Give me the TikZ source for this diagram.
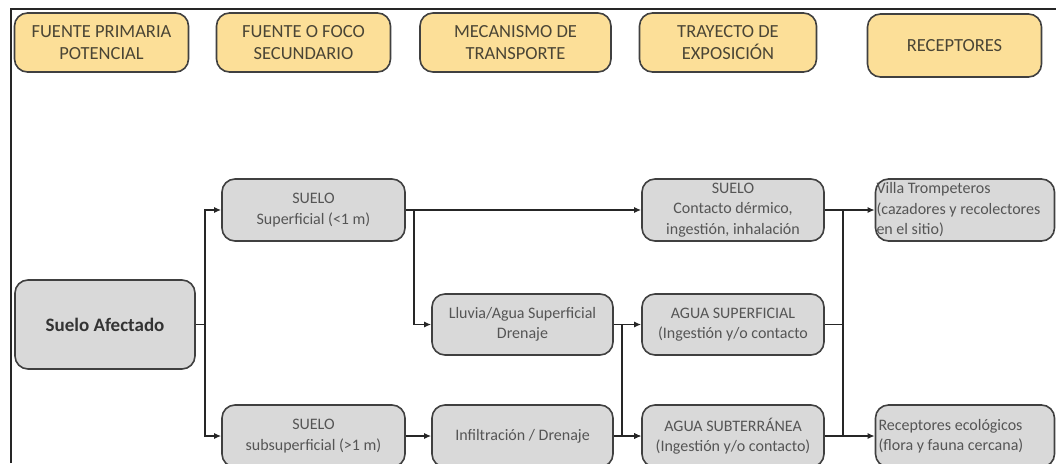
\documentclass[tikz,border=0pt]{standalone}
\usepackage{fontspec}
\setmainfont{Carlito}
\usetikzlibrary{arrows.meta}
\definecolor{hfill}{HTML}{FCDF98}
\definecolor{gfill}{HTML}{D9D9D9}
\definecolor{edge}{HTML}{404040}
\definecolor{htext}{HTML}{4A4535}
\definecolor{btext}{HTML}{555555}
\begin{document}
\begin{tikzpicture}[x=1pt,y=-1pt,
  hbox/.style={draw=edge,line width=1.6pt,fill=hfill,rounded corners=13pt,
    minimum height=59pt,align=center,text=htext,font=\fontsize{18.5}{22}\selectfont,inner sep=1pt},
  gbox/.style={draw=edge,line width=1.6pt,fill=gfill,rounded corners=13pt,
    minimum height=62pt,minimum width=182pt,align=center,text=btext,
    font=\fontsize{16}{20.5}\selectfont,inner sep=1pt},
  conn/.style={draw=black!85,line width=1.4pt},
  arr/.style={conn,-{Latex[length=7pt,width=6pt]}}]
\clip (0,0) rectangle (1056,463);
\fill[white] (0,0) rectangle (1056,463);
\draw[line width=2pt,black!85] (11,463) -- (11,9) -- (1056,9);
% headers
\node[hbox,minimum width=174pt] (h1) at (101.5,42.5) {FUENTE PRIMARIA\\POTENCIAL};
\node[hbox,minimum width=174pt] (h2) at (303.5,42.5) {FUENTE O FOCO\\SECUNDARIO};
\node[hbox,minimum width=191pt] (h3) at (515.5,42.5) {MECANISMO DE\\TRANSPORTE};
\node[hbox,minimum width=177pt] (h4) at (728,42.5) {TRAYECTO DE\\EXPOSICIÓN};
\node[hbox,minimum width=174pt,minimum height=63pt] (h5) at (954.5,45.5) {RECEPTORES};
% body
\node[gbox,minimum width=180pt,minimum height=89pt,text=black!80,font=\fontsize{19}{22}\selectfont\bfseries] (A) at (105,324.5) {Suelo Afectado};
\node[gbox,minimum width=183pt] (B) at (313.5,210) {SUELO\\Superficial (<1 m)};
\node[gbox,minimum width=183pt] (C) at (313.5,436) {SUELO\\subsuperficial (>1 m)};
\node[gbox,minimum width=181pt,minimum height=61pt] (D) at (522.5,324.5) {Lluvia/Agua Superficial\\Drenaje};
\node[gbox,minimum width=181pt] (E) at (522.5,436) {Infiltración / Drenaje};
\node[gbox] (F) at (733,210) {SUELO\\Contacto dérmico,\\ingestión, inhalación};
\node[gbox,minimum height=61pt] (G) at (733,324.5) {AGUA SUPERFICIAL\\(Ingestión y/o contacto};
\node[gbox] (H) at (733,436) {AGUA SUBTERRÁNEA\\(Ingestión y/o contacto)};
\node[gbox,minimum width=179pt,text width=177pt,align=flush left,inner xsep=1pt] (I) at (965,210) {\mbox{Villa Trompeteros}\\\mbox{(cazadores y recolectores}\\\mbox{en el sitio)}};
\node[gbox,minimum width=179pt,text width=173pt,align=flush left,inner xsep=3pt] (J) at (965,436) {\mbox{Receptores ecológicos}\\\mbox{(flora y fauna cercana)}};
% connectors
\coordinate (jA) at (205,324.5);
\draw[conn] (A.east) -- (jA);
\draw[arr] (jA) |- (B.west);
\draw[arr] (jA) |- (C.west);
\draw[arr] (B.east) -- (F.west);
\coordinate (jB) at (414,210);
\draw[arr] (jB) |- (D.west);
\draw[arr] (C.east) -- (E.west);
\draw[arr] (D.east) -- (G.west);
\coordinate (jD) at (622,324.5);
\draw[arr] (jD) |- (H.west);
\draw[arr] (E.east) -- (H.west);
\draw[arr] (F.east) -- (I.west);
\coordinate (jF) at (843,210);
\draw[conn] (jF) -- (843,436);
\draw[conn] (G.east) -- (843,324.5);
\draw[arr] (H.east) -- (J.west);
\end{tikzpicture}
\end{document}
